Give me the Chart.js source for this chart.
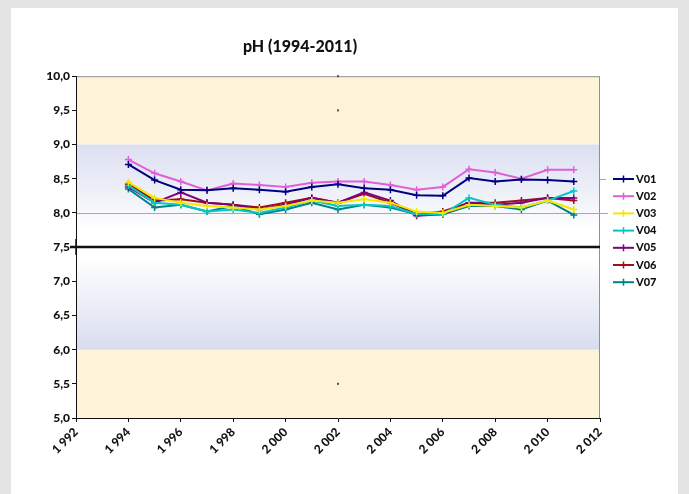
<!DOCTYPE html>
<html>
<head>
<meta charset="utf-8">
<script src="https://cdn.jsdelivr.net/npm/chart.js@4/dist/chart.umd.min.js"></script>
<style>
html,body{margin:0;padding:0;background:#e4e4e4;}
#wrap{position:absolute;left:0;top:0;width:689px;height:494px;}
</style>
</head>
<body>
<div id="wrap"><canvas id="c" width="689" height="494"></canvas></div>
<script>
const years = [1994,1995,1996,1997,1998,1999,2000,2001,2002,2003,2004,2005,2006,2007,2008,2009,2010,2011];
const seriesNames = ['V01','V02','V03','V04','V05','V06','V07'];
const V01 = [8.71,8.48,8.34,8.33,8.36,8.34,8.31,8.38,8.42,8.36,8.34,8.26,8.25,8.51,8.46,8.49,8.48,8.46];
const V02 = [8.78,8.58,8.46,8.33,8.43,8.41,8.38,8.44,8.46,8.46,8.41,8.34,8.38,8.64,8.59,8.50,8.63,8.63];
const V03 = [8.45,8.22,8.15,8.10,8.08,8.05,8.10,8.18,8.15,8.20,8.15,8.02,8.00,8.12,8.10,8.08,8.18,8.05];
const V04 = [8.40,8.15,8.12,8.02,8.05,8.00,8.08,8.18,8.10,8.12,8.10,7.98,7.98,8.22,8.12,8.08,8.18,8.32];
const V05 = [8.38,8.15,8.30,8.15,8.12,8.05,8.12,8.22,8.15,8.30,8.18,7.96,7.98,8.15,8.12,8.15,8.22,8.22];
const V06 = [8.42,8.18,8.20,8.15,8.12,8.08,8.15,8.22,8.15,8.28,8.15,7.98,8.02,8.15,8.15,8.18,8.22,8.18];
const V07 = [8.35,8.08,8.12,8.02,8.10,7.98,8.05,8.15,8.05,8.12,8.08,7.98,7.98,8.10,8.10,8.05,8.18,7.97];
const seriesColors = ['#000080','#e060d8','#f4e800','#00c8c8','#800080','#a01010','#008080'];
const seriesValues = [V01,V02,V03,V04,V05,V06,V07];
const xTicks = {min:1992, max:2012, step:2};
const yTicks = {min:5, max:10, step:0.5};
// reference bands (pH limits)
const bandYellowTop = [9.0, 10.0];
const bandBlueTop = [7.75, 9.0];
const limitLine = 7.5;
const refLine = 8.0;
const bandBlueBottom = [6.0, 7.35];
const bandYellowBottom = [5.0, 6.0];
const dotYear = 2002;
const dotValues = [10.0, 9.5, 5.5];

const FONT = 'Lato, "Open Sans", sans-serif';

const datasets = seriesNames.map((n,i)=>({
  label:n,
  data: years.map((y,j)=>({x:y, y:seriesValues[i][j]})),
  borderColor: seriesColors[i],
  backgroundColor: seriesColors[i],
  borderWidth: 2,
  pointStyle: 'cross',
  pointRadius: 3.5,
  pointBorderWidth: 1.5,
  pointBorderColor: seriesColors[i],
  tension: 0
}));

const bgPlugin = {
  id:'bg',
  beforeDraw(chart){
    const ctx = chart.ctx;
    ctx.save();
    ctx.fillStyle = '#e4e4e4';
    ctx.fillRect(0,0,chart.width,chart.height);
    ctx.fillStyle = '#ffffff';
    ctx.fillRect(11,8,667,chart.height-8);
    const a = chart.chartArea, ys = chart.scales.y;
    const L=a.left, W=a.right-a.left;
    const py = v=>ys.getPixelForValue(v);
    ctx.fillStyle = '#fdf3d8';
    ctx.fillRect(L, py(bandYellowTop[1]), W, py(bandYellowTop[0])-py(bandYellowTop[1]));
    ctx.fillRect(L, py(bandYellowBottom[1]), W, py(bandYellowBottom[0])-py(bandYellowBottom[1]));
    let g = ctx.createLinearGradient(0, py(bandBlueTop[1]), 0, py(bandBlueTop[0]));
    g.addColorStop(0,'#dcdff1'); g.addColorStop(0.5,'#eceef7'); g.addColorStop(1,'#ffffff');
    ctx.fillStyle = g;
    ctx.fillRect(L, py(bandBlueTop[1]), W, py(bandBlueTop[0])-py(bandBlueTop[1]));
    g = ctx.createLinearGradient(0, py(bandBlueBottom[1]), 0, py(bandBlueBottom[0]));
    g.addColorStop(0,'#ffffff'); g.addColorStop(0.5,'#eceef7'); g.addColorStop(1,'#d8dcef');
    ctx.fillStyle = g;
    ctx.fillRect(L, py(bandBlueBottom[1]), W, py(bandBlueBottom[0])-py(bandBlueBottom[1]));
    ctx.strokeStyle = '#909090'; ctx.lineWidth = 1;
    ctx.beginPath();
    ctx.moveTo(L, a.top+0.5); ctx.lineTo(a.right, a.top+0.5);
    ctx.moveTo(a.right-0.5, a.top); ctx.lineTo(a.right-0.5, a.bottom);
    ctx.stroke();
    ctx.strokeStyle = '#a8a8a8';
    ctx.beginPath();
    ctx.moveTo(L, Math.round(py(refLine))+0.5); ctx.lineTo(a.right+8, Math.round(py(refLine))+0.5);
    ctx.moveTo(a.right, Math.round(py(8.5))+0.5); ctx.lineTo(a.right+6, Math.round(py(8.5))+0.5);
    ctx.stroke();
    ctx.fillStyle = '#555';
    const dx = chart.scales.x.getPixelForValue(dotYear);
    dotValues.forEach(v=>{ctx.fillRect(dx-1, py(v)-1, 2, 2);});
    ctx.restore();
  },
  afterDatasetsDraw(chart){
    const ctx = chart.ctx, a = chart.chartArea, ys = chart.scales.y;
    ctx.save();
    ctx.strokeStyle = '#111'; ctx.lineWidth = 2.5;
    const y = Math.round(ys.getPixelForValue(limitLine));
    ctx.beginPath(); ctx.moveTo(a.left-6, y); ctx.lineTo(a.right, y); ctx.stroke();
    ctx.lineWidth = 1.5;
    ctx.beginPath(); ctx.moveTo(a.left, y-8); ctx.lineTo(a.left, y+8); ctx.stroke();
    ctx.font = '900 11px ' + FONT;
    ctx.textBaseline = 'middle';
    chart.data.datasets.forEach((d,i)=>{
      const ly = 179 + i*17.2;
      ctx.strokeStyle = d.borderColor; ctx.lineWidth = 2;
      ctx.beginPath(); ctx.moveTo(613, ly); ctx.lineTo(634, ly); ctx.stroke();
      ctx.lineWidth = 1.5;
      ctx.beginPath(); ctx.moveTo(623.5, ly-3.5); ctx.lineTo(623.5, ly+3.5); ctx.stroke();
      ctx.fillStyle = '#111';
      ctx.fillText(d.label, 636, ly);
    });
    ctx.restore();
  }
};

new Chart(document.getElementById('c'), {
  type:'line',
  data:{datasets},
  plugins:[bgPlugin],
  options:{
    responsive:false,
    animation:false,
    layout:{padding:{left:0,right:89,top:0,bottom:0}},
    plugins:{
      legend:{display:false},
      tooltip:{enabled:false},
      title:{display:true, text:'pH (1994-2011)', color:'#111',
        font:{family:FONT, size:16, weight:'900'}, padding:{top:37,bottom:20}}
    },
    scales:{
      x:{type:'linear', min:xTicks.min, max:xTicks.max,
        afterFit(s){s.height=76;},
        ticks:{stepSize:xTicks.step, maxRotation:45, minRotation:45, color:'#111',
          font:{family:FONT,size:12,weight:'900'},
          callback:v=>{const s=String(v);return s[0]+' '+s.slice(1);}},
        grid:{drawOnChartArea:false, drawTicks:true, tickLength:4, color:'#111'},
        border:{display:true,color:'#111',width:1}},
      y:{min:yTicks.min, max:yTicks.max,
        afterFit(s){s.width=76;},
        ticks:{stepSize:yTicks.step, color:'#111', padding:2,
          font:{family:FONT,size:12,weight:'900'},
          callback:v=>v.toFixed(1).replace('.',',')},
        grid:{drawOnChartArea:false, drawTicks:true, tickLength:4, color:'#111'},
        border:{display:true,color:'#111',width:1}}
    }
  }
});
</script>
</body>
</html>
